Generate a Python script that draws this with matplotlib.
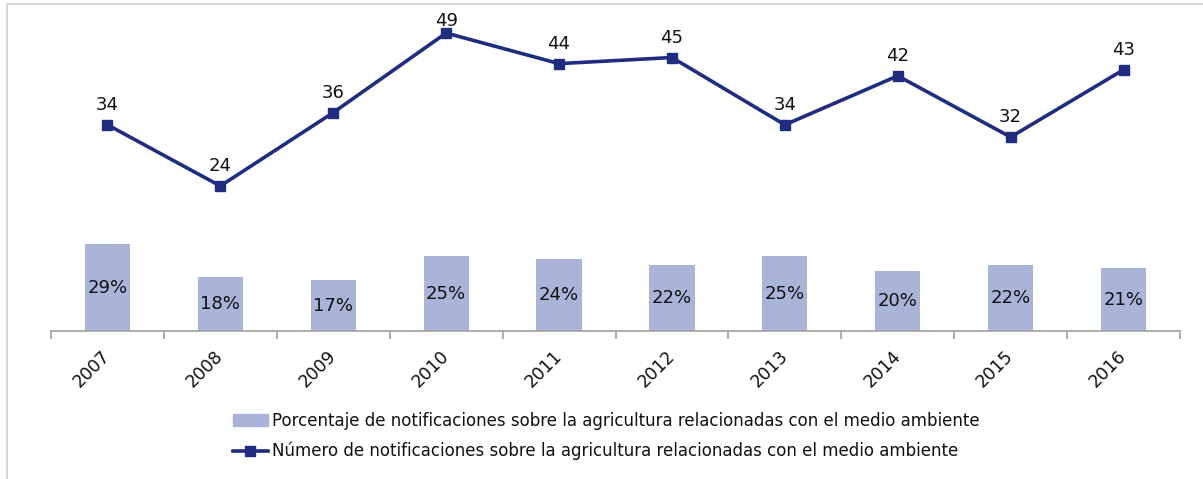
import matplotlib
matplotlib.use("Agg")
import matplotlib.pyplot as plt
from matplotlib.lines import Line2D
import numpy as np

years = ["2007", "2008", "2009", "2010", "2011", "2012", "2013", "2014", "2015", "2016"]
pct_values = [29, 18, 17, 25, 24, 22, 25, 20, 22, 21]
num_values = [34, 24, 36, 49, 44, 45, 34, 42, 32, 43]
bar_label = "Porcentaje de notificaciones sobre la agricultura relacionadas con el medio ambiente"
line_label = "Número de notificaciones sobre la agricultura relacionadas con el medio ambiente"

bar_color = "#A9B4D8"
line_color = "#1F2C80"
axis_color = "#A0A0A0"
text_color = "#111111"

plt.rcParams["font.family"] = ["DejaVu Sans"]

W, H = 1203, 479
fig = plt.figure(figsize=(W / 100, H / 100), dpi=100)
ax = fig.add_axes([51 / W, 1 - 331 / H, (1180 - 51) / W, (331 - 26) / H])
ax2 = ax.twinx()

x = np.arange(len(years))
ax.bar(x, pct_values, width=0.4, color=bar_color, zorder=2)
ax.set_ylim(0, 101.7)
ax.set_xlim(-0.5, len(years) - 0.5)
for xi, v in zip(x, pct_values):
    ax.text(xi, v / 2, f"{v}%", ha="center", va="center", fontsize=13, color=text_color, zorder=3)

ax2.plot(x, num_values, color=line_color, lw=2.6, marker="s", markersize=7.5, zorder=4)
ax2.set_ylim(0.3, 50.15)
ax2.set_xlim(-0.5, len(years) - 0.5)

fig.canvas.draw()
for xi, v in zip(x, num_values):
    py = H - ax2.transData.transform((xi, v))[1]  # pixel y from top
    off_px = min(15, py - 26)
    ax2.annotate(str(v), (xi, v), xytext=(0, off_px * 72 / 100), textcoords="offset points",
                 ha="center", va="baseline", fontsize=13, color=text_color)

for a in (ax, ax2):
    for s in ("top", "right", "left"):
        a.spines[s].set_visible(False)
    a.set_yticks([])
ax.spines["bottom"].set_color(axis_color)
ax.spines["bottom"].set_linewidth(1.2)
ax2.spines["bottom"].set_visible(False)

ax.set_xticks(x)
ax.set_xticklabels(years, rotation=45, ha="right", va="center", rotation_mode="anchor",
                   fontsize=12.5, color=text_color)
ax.tick_params(axis="x", which="major", length=0, pad=16)
ax.set_xticks(np.arange(-0.5, len(years), 1.0), minor=True)
ax.tick_params(axis="x", which="minor", length=6, color=axis_color, width=1.2)

handles = [
    plt.Rectangle((0, 0), 1, 1, color=bar_color),
    Line2D([0], [0], color=line_color, lw=2.6, marker="s", markersize=7.5),
]
fig.legend(handles, [bar_label, line_label], loc="center", bbox_to_anchor=(606 / W, 1 - 436 / H),
           frameon=False, fontsize=12, handlelength=2.1, handletextpad=0.25, labelspacing=0.75,
           labelcolor=text_color)

# outer border lines
fig.add_artist(Line2D([7 / W, 1], [1 - 4 / H, 1 - 4 / H], color="#D9D9D9", lw=1.5, transform=fig.transFigure))
fig.add_artist(Line2D([7 / W, 7 / W], [0, 1 - 4 / H], color="#D9D9D9", lw=1.5, transform=fig.transFigure))

fig.savefig("out.png", dpi=100)
